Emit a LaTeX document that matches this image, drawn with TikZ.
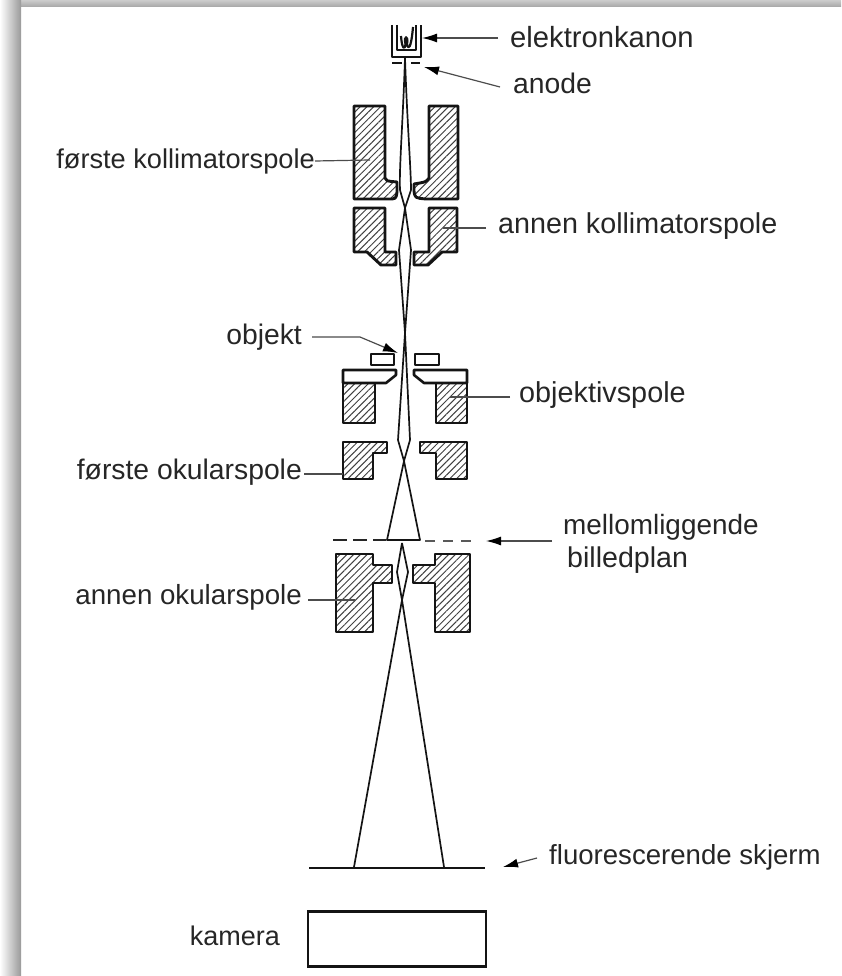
\documentclass[tikz,border=0pt]{standalone}
\usepackage{fontspec}
\setmainfont{Liberation Sans}
\usetikzlibrary{patterns.meta,arrows.meta}
\colorlet{ink}{black!92}
\newcommand{\fsz}[1]{\fontsize{#1}{30}\selectfont}
\tikzset{
  x=1pt,y=-1pt,
  coil/.style={draw=ink,line width=2.9pt,line join=round,pattern={Lines[angle=45,distance=4.8pt,line width=1pt]},pattern color=black!75},
  plate/.style={draw=ink,line width=2.6pt,line join=round,fill=white},
  beam/.style={draw=ink,line width=1.7pt,line join=round},
  gun/.style={draw=ink,line width=2.2pt,line join=round},
  leader/.style={draw=black!70,line width=1.2pt},
  pointer/.style={draw=black!70,line width=1.2pt,-{Latex[length=15pt,width=9pt,black]}},
  lbl/.style={font=\fsz{28.3},text=black!85,inner sep=0pt,anchor=west}
}
\begin{document}
\begin{tikzpicture}
\useasboundingbox (0,0) rectangle (841,976);
% page shadow
\shade[top color=black!20,bottom color=black!35,draw=none] (0,0) rectangle (841,7);
\shade[left color=white,right color=black!40,draw=none] (0,0) rectangle (21,976);
% labels
\node[lbl,font=\fsz{29.2}] (elek) at (510,37) {elektronkanon};
\node[lbl] (anod) at (513,83) {anode};
\node[lbl,anchor=east,font=\fsz{27.2}] (kol1) at (315,161) {første kollimatorspole};
\node[lbl,font=\fsz{28.7}] (kol2) at (498,226) {annen kollimatorspole};
\node[lbl,anchor=east] (obj) at (302,337) {objekt};
\node[lbl,font=\fsz{28.8}] (objs) at (519,395) {objektivspole};
\node[lbl,anchor=east] (oku1) at (302,472) {første okularspole};
\node[lbl,font=\fsz{27.9}] (mel) at (563,527) {mellomliggende};
\node[lbl,font=\fsz{28.6}] (bil) at (567,560) {billedplan};
\node[lbl,anchor=east,font=\fsz{27.7}] (oku2) at (302,597) {annen okularspole};
\node[lbl,font=\fsz{27.6}] (fluo) at (549,857) {fluorescerende skjerm};
\node[lbl,anchor=east,font=\fsz{27}] (kam) at (280,936) {kamera};
% first collimator coil
\draw[coil] (354,106) -- (385,106) -- (385,178) .. controls (386,181) .. (397,182) -- (397,192) .. controls (396,199) .. (388,199) -- (354,199) -- cycle;
\draw[coil] (429,106) -- (458,106) -- (458,199) -- (426,199) .. controls (415,198) .. (414,191) -- (414,184) .. controls (426,182) .. (429,178) -- cycle;
% second collimator coil
\draw[coil] (354,208) -- (385,208) -- (385,252) -- (396,252) -- (396,265) -- (381,265) -- (367,252) -- (354,252) -- cycle;
\draw[coil] (429,208) -- (457,208) -- (457,252) -- (442,252) -- (428,265) -- (414,265) -- (414,252) -- (429,252) -- cycle;
% object aperture
\draw[plate] (371,354) rectangle (394,365);
\draw[plate] (415,354) rectangle (439,365);
% objective coil
\draw[coil] (343,383) rectangle (375,423);
\draw[coil] (436,383) rectangle (467,423);
\draw[plate] (343,370) -- (396,370) -- (396,375) -- (386,383) -- (343,383) -- cycle;
\draw[plate] (414,370) -- (467,370) -- (467,383) -- (424,383) -- (414,375) -- cycle;
% first ocular coil
\draw[coil] (343,442) -- (387,442) -- (387,453) -- (373,453) -- (373,479) -- (343,479) -- cycle;
\draw[coil] (420,442) -- (467,442) -- (467,479) -- (436,479) -- (436,453) -- (420,453) -- cycle;
% second ocular coil
\draw[coil] (336,554) -- (373,554) -- (373,565) -- (392,565) -- (392,583) -- (373,583) -- (373,632) -- (336,632) -- cycle;
\draw[coil] (435,554) -- (470,554) -- (470,632) -- (435,632) -- (435,583) -- (413,583) -- (413,565) -- (435,565) -- cycle;
% electron gun
\draw[gun] (392,25) -- (392,57) -- (421,57) -- (421,25);
\draw[gun] (397,25) -- (397,50) -- (416,50) -- (416,25);
\draw[gun] (401,36) .. controls (402,50) and (405,50) .. (405.5,44) .. controls (403,35) and (409,35) .. (407,44) .. controls (408,50) and (411,50) .. (413,27);
\draw[gun,line width=2.8pt] (392,63) -- (402,63);
\draw[gun,line width=2.8pt] (411,63) -- (420,63);
% beam
\coordinate (g) at (405,58);
\coordinate (c1) at (405,208);
\coordinate (c2) at (405,333);
\coordinate (c3) at (404,461);
\coordinate (c4) at (402,600);
\draw[beam] (g) .. controls (403,120) and (399,170) .. (400,190) -- (c1) -- (399,250) -- (c2) -- (398,440) -- (c3) -- (387,540) -- (420,540) -- (c3) -- (410,440) -- (c2) -- (411,250) -- (c1) -- (411,190) .. controls (411,170) and (407,120) .. (g);
\draw[beam,line width=2.8pt] (g) -- (405,85);
\draw[beam] (402,543) -- (397,572) -- (c4) -- (354,867);
\draw[beam] (402,543) -- (408,572) -- (c4) -- (444,867);
% image plane
\coordinate (dl) at (333,540);
\coordinate (dm) at (386,540);
\coordinate (dn) at (425,541);
\coordinate (dr) at (473,541);
\draw[draw=black!85,line width=2.2pt,dash pattern=on 14pt off 6pt] (dl) -- (dm);
\draw[draw=black!65,line width=2.2pt,dash pattern=on 10pt off 8pt] (dn) -- (dr);
% screen and camera
\coordinate (sl) at (309,868);
\coordinate (sr) at (485,868);
\draw[draw=ink,line width=2.4pt] (sl) -- (sr);
\node[draw=ink,line width=2.1pt,minimum width=178pt,minimum height=55pt,inner sep=0pt] (cam) at (397,939) {};
% leaders
\coordinate (t1) at (422,38);
\coordinate (t2) at (424,67);
\coordinate (t3) at (370,160);
\coordinate (t4) at (443,228);
\coordinate (t5a) at (360,337);
\coordinate (t5) at (398,353);
\coordinate (t6) at (450,397);
\coordinate (t7) at (343,474);
\coordinate (t8) at (486,541);
\coordinate (t9) at (355,600);
\coordinate (t10) at (503,867);
\draw[pointer] (498,38) -- (t1);
\draw[pointer] (500,87) -- (t2);
\draw[leader] (kol1.east) -- (t3);
\draw[leader] (486,228) -- (t4);
\draw[pointer] (312,337) -- (t5a) -- (t5);
\draw[leader] (510,397) -- (t6);
\draw[leader] (oku1.east) ++(2,2) -- (t7);
\draw[pointer] (552,541) -- (t8);
\draw[leader] (308,600) -- (t9);
\draw[pointer] (537,858) -- (t10);
\end{tikzpicture}
\end{document}
